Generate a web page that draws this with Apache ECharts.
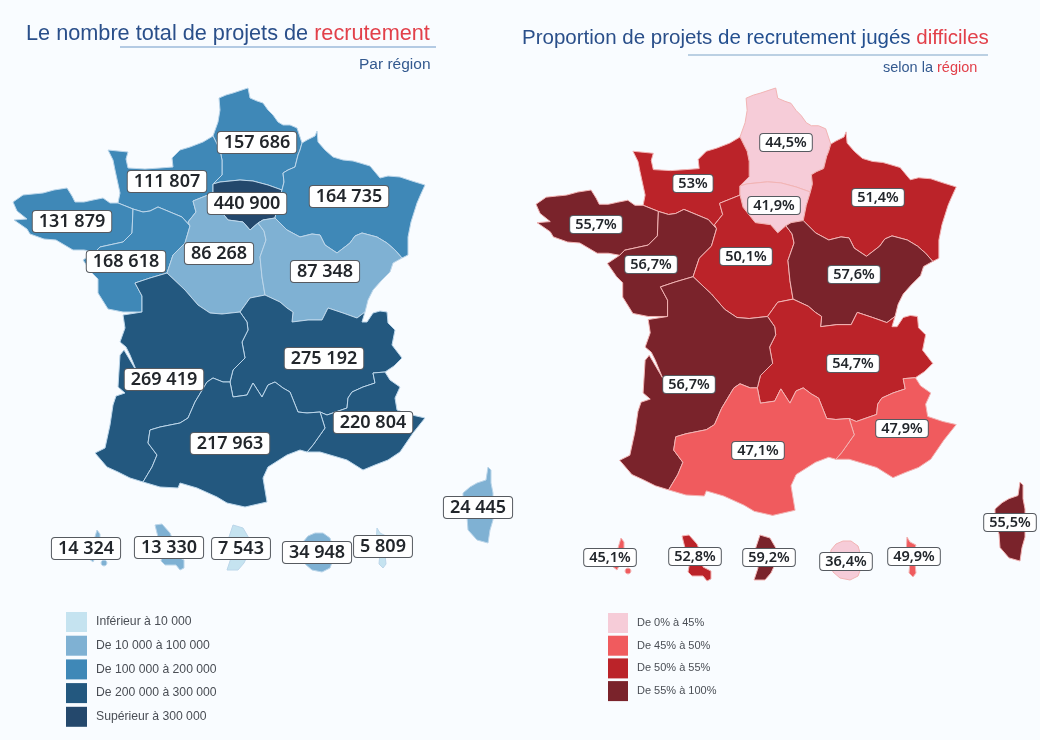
<!DOCTYPE html>
<html lang="fr"><head><meta charset="utf-8">
<style>html,body{margin:0;padding:0;background:#f9fcff}#c{width:1040px;height:740px}</style>
<script src="https://cdn.jsdelivr.net/npm/echarts@6/dist/echarts.min.js"></script>
</head><body><div id="c"></div>
<script>
// ---- data ----
const regions = ['Hauts-de-France','Normandie','Île-de-France','Grand Est','Bretagne','Pays de la Loire','Centre-Val de Loire','Bourgogne-Franche-Comté','Auvergne-Rhône-Alpes','Nouvelle-Aquitaine','Provence-Alpes-Côte d\'Azur','Occitanie','Corse','Guadeloupe','Martinique','Guyane','La Réunion','Mayotte'];
const projets = [157686,111807,440900,164735,131879,168618,86268,87348,275192,269419,220804,217963,24445,14324,13330,7543,34948,5809];
const difficiles = [44.5,53,41.9,51.4,55.7,56.7,50.1,57.6,54.7,56.7,47.9,47.1,55.5,45.1,52.8,59.2,36.4,49.9];
const legendProjets = ['Inférieur à 10 000','De 10 000 à 100 000','De 100 000 à 200 000','De 200 000 à 300 000','Supérieur à 300 000'];
const breaksProjets = [0,10000,100000,200000,300000,1000000];
const legendDiff = ['De 0% à 45%','De 45% à 50%','De 50% à 55%','De 55% à 100%'];
const breaksDiff = [0,45,50,55,100];
const blues = ['#c5e3f0','#7fb1d3','#3f88b7','#23587f','#24486c'];
const reds = ['#f6ccd8','#f05b5e','#bb2329','#7a232b'];

// ---- map geometry (shared region borders) ----
const rev = a => a.slice().reverse();
const J1=[213,184], J2=[213,193];
const hdfGE=[[302,143],[300,150],[298,155],[295,167],[288,170],[283,173],[284,182],[282,190]];
const hdfIDF=[[282,190],[268,185],[253,181],[240,180],[220,182],J1];
const hdfNor=[J1,[222,175],[222,160],[220,150],[213,136]];
const geIDF=[[282,190],[278,203],[275,218]];
const idfBFC=[[275,218],[263,220],[258,223]];
const idfCVL=[[258,223],[250,230],[243,222],[228,220],[216,205],J2];
const norCVL=[J2,[203,197],[193,201],[196,212],[188,222],[190,226]];
const norPDL=[[190,226],[182,217],[170,212],[158,207],[150,211],[143,212],[133,209]];
const norBre=[[133,209],[118,203]];
const cvlBFC=[[258,223],[264,231],[266,240],[260,257],[262,277],[265,295]];
const cvlAURA=[[265,295],[250,298],[240,312]];
const cvlNA=[[240,312],[222,314],[210,313],[198,305],[185,290],[167,273]];
const cvlPDL=[[167,273],[173,255],[185,243],[190,226]];
const geBFC=[[275,218],[287,230],[300,237],[312,234],[320,235],[325,245],[337,253],[350,243],[355,236],[362,233],[377,237],[387,243],[395,250],[402,258]];
const bfcAURA=[[365,312],[357,318],[343,313],[334,310],[328,308],[322,320],[308,320],[292,322],[293,312],[287,308],[280,302],[265,295]];
const auraPACA=[[385,372],[373,373],[375,383],[363,387],[352,392],[348,398],[347,408],[327,415],[320,412]];
const auraOcc=[[320,412],[307,413],[298,412],[290,392],[283,388],[275,382],[268,385],[262,397],[253,383],[247,395],[233,397],[230,382]];
const auraNA=[[230,382],[233,370],[245,358],[242,342],[248,330],[247,322],[240,312]];
const pacaOcc=[[307,452],[313,445],[325,428],[320,412]];
const occNA=[[143,482],[152,467],[157,455],[148,443],[150,430],[160,427],[180,423],[188,418],[195,402],[207,382],[213,378],[223,382],[230,382]];
const naPDL=[[142,312],[142,296],[135,283],[150,278],[167,273]];
const brePDL=[[95,252],[100,247],[123,242],[132,233],[133,209]];
function oct(cx,cy,r){const p=[];for(let i=0;i<10;i++){p.push([cx+r*Math.cos(i*Math.PI/5),cy+r*Math.sin(i*Math.PI/5)]);}return p;}
const shapes = {
 'Hauts-de-France':[[[[213,136],[218,122],[220,110],[219,98],[226,95],[233,93],[248,88],[250,98],[257,101],[263,103],[268,110],[273,115],[278,122],[283,125],[290,125],[297,128],...hdfGE,...hdfIDF,...hdfNor]]],
 'Normandie':[[[[118,203],[120,193],[115,170],[113,160],[108,150],[118,151],[128,152],[126,159],[128,168],[145,169],[160,168],[173,167],[172,158],[180,150],[190,147],[203,142],[213,136],...rev(hdfNor),...norCVL,...norPDL,...norBre]]],
 'Île-de-France':[[[...hdfIDF,...rev(idfCVL),...rev(idfBFC),...rev(geIDF)]]],
 'Grand Est':[[[[302,143],[307,140],[315,136],[317,131],[318,142],[325,150],[333,157],[343,160],[353,161],[360,163],[370,166],[375,172],[380,178],[388,176],[400,177],[412,181],[425,185],[420,196],[417,203],[411,222],[408,237],[408,255],[402,258],...rev(geBFC),...rev(geIDF),...rev(hdfGE)]]],
 'Bretagne':[[[...rev(brePDL),[84,250],[73,250],[56,240],[44,239],[30,234],[27,229],[14,220],[27,219],[17,211],[13,202],[23,195],[33,194],[43,193],[54,190],[67,188],[72,196],[75,202],[84,202],[93,200],[103,198],[110,203],[118,203],...rev(norBre)]]],
 'Pays de la Loire':[[[...rev(norPDL),...rev(cvlPDL),...rev(naPDL),[123,312],[108,309],[98,293],[98,279],[92,273],[83,260],...brePDL]]],
 'Centre-Val de Loire':[[[...rev(idfCVL),...cvlBFC,...cvlAURA,...cvlNA,...cvlPDL,...rev(norCVL)]]],
 'Bourgogne-Franche-Comté':[[[...rev(idfBFC),...geBFC,[393,263],[390,272],[381,281],[373,290],[368,300],[365,312],...bfcAURA,...rev(cvlBFC)]]],
 'Auvergne-Rhône-Alpes':[[[...rev(bfcAURA),[362,322],[367,322],[373,313],[380,311],[387,312],[388,323],[395,330],[392,345],[402,358],[394,366],[385,372],...auraPACA,...auraOcc,...auraNA,...rev(cvlAURA)]]],
 'Nouvelle-Aquitaine':[[[...rev(occNA),[130,478],[118,472],[107,467],[95,453],[105,448],[110,425],[113,405],[116,396],[125,393],[118,387],[120,355],[124,350],[137,372],[130,355],[126,347],[120,342],[125,328],[123,315],...naPDL,...rev(cvlNA),...rev(auraNA)]]],
 "Provence-Alpes-Côte d'Azur":[[[...rev(auraPACA),[390,380],[400,387],[395,398],[397,410],[412,415],[425,418],[413,433],[400,452],[388,460],[375,465],[363,470],[347,460],[337,457],[320,452],...pacaOcc]]],
 'Occitanie':[[[...occNA,...rev(auraOcc),...rev(pacaOcc),[300,450],[287,455],[268,467],[263,478],[267,502],[245,507],[227,503],[217,497],[197,488],[180,483],[178,488],[160,487]]]],
 'Corse':[[[[488,467],[491,470],[491,483],[493,493],[493,520],[490,530],[488,543],[477,540],[468,530],[467,517],[463,505],[463,493],[470,487],[477,483],[486,480]]]],
 'Guadeloupe':[[[[94,540],[97,530],[100,534],[100,545],[106,548],[103,556],[96,556],[93,562],[88,558],[86,548]]],[oct(104,563,3)]],
 'Martinique':[[[[155,525],[162,524],[170,533],[175,545],[176,556],[184,560],[184,568],[180,570],[176,565],[165,565],[161,561],[163,550],[158,537]]]],
 'Guyane':[[[[233,525],[243,528],[250,540],[250,550],[244,563],[238,570],[227,570],[231,558],[228,540]]]],
 'La Réunion':[[[[308,536],[315,533],[323,533],[330,538],[333,548],[333,560],[330,568],[322,572],[312,570],[305,564],[302,552],[303,542]]]],
 'Mayotte':[[[[377,528],[380,533],[386,536],[382,548],[385,555],[386,564],[383,568],[379,564],[380,552],[376,545]]]]
};
const labelLeft = [[257,142],[167,181],[247,203],[349,196],[72,221],[126,261],[219,253],[325,271],[324,358],[164,379],[373,422],[230,443],[478,507],[86,548],[169,547],[241,548],[317,552],[383,546]];
const labelRight = [[786,142],[693,183],[774,205],[878,197],[596,224],[651,264],[746,256],[854,274],[853,363],[689,384],[902,428],[758,450],[1010,522],[610,557],[695,556],[769,557],[846,561],[914,556]];
const shiftRight = {'Guadeloupe':[524,8],'Martinique':[527,11],'Guyane':[527,10],'La Réunion':[528,8],'Mayotte':[530,9]};
const toLeft = ([x,y]) => [x,-y];
function toRight(name){
  if(name==='Corse') return ([x,y]) => [x+532,-(482+(y-467)*1.04)];
  if(shiftRight[name]) return ([x,y]) => [x+shiftRight[name][0],-(y+shiftRight[name][1])];
  return ([x,y]) => [536+(x-13)*1.02,-(88+(y-88)*1.02)];
}
function geo(fn,centers){
  return {type:'FeatureCollection',features:regions.map((n,i)=>({type:'Feature',
    properties:{name:n,cp:[centers[i][0],-(centers[i][1]+0.5)]},
    geometry:{type:'MultiPolygon',coordinates:shapes[n].map(poly=>poly.map(ring=>ring.map(fn(n))))}}))};
}
echarts.registerMap('gauche',geo(()=>toLeft,labelLeft));
echarts.registerMap('droite',geo(toRight,labelRight));

const spaced = v => String(v).replace(/\B(?=(\d{3})+$)/g,' ');
const pct = v => String(v).replace('.',',')+'%';
const FULL={left:0,top:0,width:1040,height:740,aspectScale:1,boundingCoords:[[0,0],[1040,-740]],roam:false,silent:true};
function mapSeries(map,values,fmt,border,fs,pad){
  return Object.assign({type:'map',map,data:regions.map((name,i)=>({name,value:values[i]})),
    itemStyle:{borderColor:border,borderWidth:1},
    emphasis:{disabled:true},select:{disabled:true},
    label:{show:true,formatter:p=>fmt(p.value),fontFamily:'Noto Sans',fontWeight:600,fontSize:fs,color:'#22262b',
      backgroundColor:'#ffffff',borderColor:'#565a60',borderWidth:1,borderRadius:3,padding:pad}},FULL);
}
function legend(idx,left,top,labels,breaks,colors,gap,fs,size){
  return {type:'piecewise',seriesIndex:idx,left,top,orient:'vertical',align:'left',padding:0,itemWidth:size,itemHeight:20,itemGap:gap,itemSymbol:'rect',
    selectedMode:false,hoverLink:false,textGap:9,inverse:true,textStyle:{fontFamily:'Liberation Sans',fontSize:fs,color:'#4a4e55'},
    pieces:labels.map((label,i)=>({gte:breaks[i],lt:breaks[i+1],label,color:colors[i]}))};
}
const chart=echarts.init(document.getElementById('c'),null,{renderer:'canvas'});
const B='#2a4f8a',R='#e2404a',LS='Liberation Sans';
const T=(color,size)=>({fontFamily:LS,fontWeight:'normal',fontSize:size,color});
chart.setOption({
  backgroundColor:'#f9fcff',animation:false,
  title:[
   {text:'{a|Le nombre total de projets de }{b|recrutement}',left:26,top:23,padding:0,textStyle:{rich:{a:T(B,21.7),b:T(R,21.7)}}},
   {text:'Par région',left:359,top:57,padding:0,textStyle:T('#33598f',15.5)},
   {text:'{a|Proportion de projets }{c|de recrutement jugés }{b|difficiles}',left:522,top:28,padding:0,textStyle:{rich:{a:T(B,20.5),c:T('#234f8f',20.5),b:T(R,20.5)}}},
   {text:'{c|selon la }{b|région}',left:883,top:60,padding:0,textStyle:{rich:{c:T('#33598f',14.5),b:T(R,14.5)}}}
  ],
  graphic:[
   {type:'line',shape:{x1:120,y1:47,x2:436,y2:47},style:{stroke:'#6f99c8',lineWidth:1}},
   {type:'line',shape:{x1:688,y1:55,x2:988,y2:55},style:{stroke:'#7fa3c8',lineWidth:1.2}}
  ],
  visualMap:[
   legend(0,66,612,legendProjets,breaksProjets,blues,3.7,12.2,21),
   legend(1,608,613,legendDiff,breaksDiff,reds,2.7,11,20)
  ],
  series:[
   mapSeries('gauche',projets,spaced,'#bcd6ea',18,[2,6,1,6]),
   mapSeries('droite',difficiles,pct,'#f2b4b4',14.5,[1,5,1,5])
  ]
});
</script></body></html>
